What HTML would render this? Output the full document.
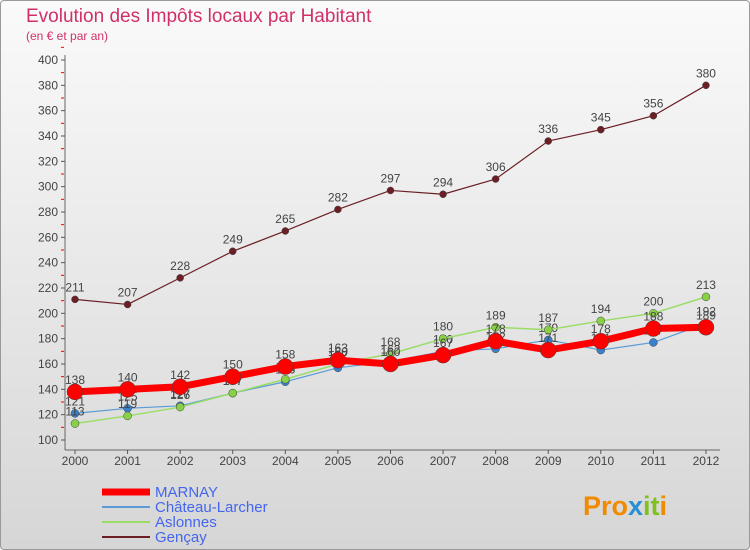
<!DOCTYPE html>
<html><head><meta charset="utf-8"><style>
body{margin:0;width:750px;height:550px;overflow:hidden;font-family:"Liberation Sans",sans-serif}
#c{position:absolute;left:0;top:0;width:748px;height:548px;border:1px solid #999;border-radius:4px;background:linear-gradient(#fafafa,#d6d6d6)}
</style></head><body>
<div id="c"></div>
<svg id="s" width="750" height="550" style="position:absolute;left:0;top:0" font-family="Liberation Sans, sans-serif">
<text x="26" y="22" font-size="19" fill="#d0306a">Evolution des Impôts locaux par Habitant</text>
<text x="26" y="40" font-size="12" fill="#d0306a">(en € et par an)</text>
<g id="grid"></g><g id="series"></g><g id="legend"></g>
<text x="583" y="515" font-size="27" font-weight="bold"><tspan fill="#f08a00">Pro</tspan><tspan fill="#2a8fd0">x</tspan><tspan fill="#80c020">it</tspan><tspan fill="#f08a00">i</tspan></text>
</svg>
<script>
const years=[2000,2001,2002,2003,2004,2005,2006,2007,2008,2009,2010,2011,2012];
const yTicks=[100,120,140,160,180,200,220,240,260,280,300,320,340,360,380,400];
const marnay=[138,140,142,150,158,163,160,167,178,171,178,188,189];
const chateau=[121,125,127,137,146,157,162,170,172,179,171,177,192];
const aslonnes=[113,119,126,137,148,160,168,180,189,187,194,200,213];
const gencay=[211,207,228,249,265,282,297,294,306,336,345,356,380];
const NS='http://www.w3.org/2000/svg';
const X=y=>75+(y-2000)*52.58;
const Y=v=>440-(v-100)*1.2667;
function mk(t,a,p){const e=document.createElementNS(NS,t);for(const k in a)e.setAttribute(k,a[k]);p.appendChild(e);return e;}
const g=document.getElementById('grid');
mk('line',{x1:65,y1:55,x2:65,y2:450,stroke:'#666'},g);
mk('line',{x1:65,y1:450,x2:720,y2:450,stroke:'#666'},g);
yTicks.forEach(v=>{
 const l=mk('line',{x1:61,y1:Y(v),x2:65,y2:Y(v),stroke:'#555'},g);
 
 
 mk('line',{x1:61,y1:Y(v+10),x2:64,y2:Y(v+10),stroke:'#e00'},g);
 const t=mk('text',{x:58,y:Y(v)+4,'font-size':12,fill:'#444','text-anchor':'end'},g);
 t.textContent=v;
 
 
});
years.forEach(y=>{
 mk('line',{x1:X(y),y1:450,x2:X(y),y2:454,stroke:'#555'},g);
 const t=mk('text',{x:X(y),y:465,'font-size':12,fill:'#444','text-anchor':'middle'},g);
 t.textContent=y;
 
 
});
const sg=document.getElementById('series');
function draw(vals,color,w,r,name,dot){
 const grp=mk('g',{},sg);
 
 
 const pl=mk('polyline',{points:vals.map((v,i)=>X(years[i])+','+Y(v)).join(' '),fill:'none',stroke:color,'stroke-width':w,'stroke-linejoin':'round'},grp);
 
 
 vals.forEach((v,i)=>{
  const c=mk('circle',{cx:X(years[i]),cy:Y(v),r:r,fill:dot,stroke:'#444','stroke-width':0.5},grp);
  
  
  const t=mk('text',{x:X(years[i]),y:Y(v)-8,'font-size':12,fill:'#444','text-anchor':'middle'},grp);
  t.textContent=v;
  
  
 });
}
draw(gencay,'#6b1f24',1.2,3.5,'gencay','#6b1f24');
draw(chateau,'#5a9bd5',1.2,4,'chateau-larcher','#3a80c8');
draw(aslonnes,'#99dd66',1.5,4,'aslonnes','#88d044');
draw(marnay,'#ff0000',7,8,'marnay','#ff0000');
const lg=document.getElementById('legend');
[['MARNAY','#ff0000',7],['Château-Larcher','#5a9bd5',2],['Aslonnes','#99dd66',2],['Gençay','#6b1f24',2]].forEach((e,i)=>{
 const y=492+i*15;
 const it=mk('g',{},lg);
 
 
 mk('line',{x1:102,y1:y,x2:150,y2:y,stroke:e[1],'stroke-width':e[2]},it);
 const t=mk('text',{x:155,y:y+5,'font-size':15,fill:'#4466ee'},it);
 t.textContent=e[0];
});
</script>
</body></html>
